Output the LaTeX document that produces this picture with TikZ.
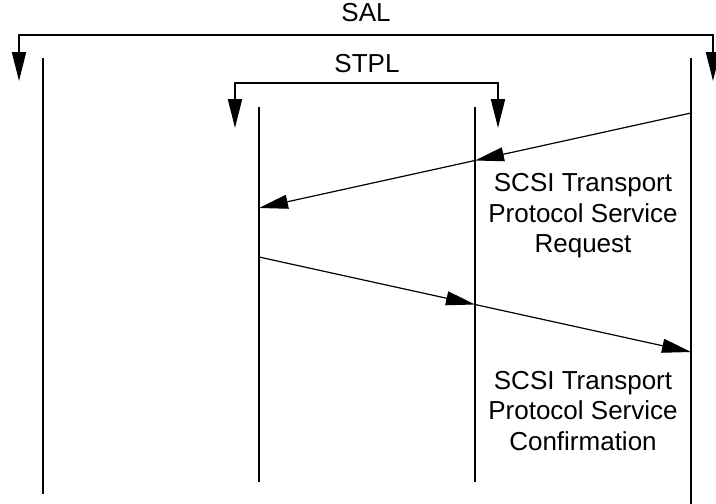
\documentclass[tikz,border=0pt]{standalone}
\usepackage{fontspec}
\setmainfont{Liberation Sans}
\usetikzlibrary{arrows.meta}

\begin{document}
\begin{tikzpicture}[x=1pt,y=-1pt,
    life/.style={line width=2pt},
    brk/.style={line width=2pt, {Triangle[length=29pt,width=14pt]}-{Triangle[length=29pt,width=14pt]}},
    msg/.style={line width=1.2pt, -{Triangle[length=29pt,width=14pt]}},
    lbl/.style={font=\fontsize{26}{30.5}\selectfont, align=center, inner sep=0pt}]
        \useasboundingbox (0,0) rectangle (716,504);

        % lifelines
        \coordinate (salTop) at (43,58);   \coordinate (salBot) at (43,494);
        \coordinate (stplLTop) at (259,107); \coordinate (stplLBot) at (259,482);
        \coordinate (stplRTop) at (475,107); \coordinate (stplRBot) at (475,482);
        \coordinate (tpTop) at (691,58);   \coordinate (tpBot) at (691,504);
        \draw[life] (salTop) -- (salBot);
        \draw[life] (stplLTop) -- (stplLBot);
        \draw[life] (stplRTop) -- (stplRBot);
        \draw[life] (tpTop) -- (tpBot);

        % brackets
        \node[lbl] (sal) at (366,13) {SAL};
        \coordinate (salMid) at (366,35);
        \draw[brk] (19,81) |- (salMid) -| (713,81);

        \node[lbl] (stpl) at (367,64) {STPL};
        \coordinate (stplMid) at (367,83);
        \draw[brk] (235,128) |- (stplMid) -| (498,128);

        % request
        \coordinate (reqA) at (691,113);
        \coordinate (reqB) at (475,160.5);
        \coordinate (reqC) at (259,208);
        \draw[msg] (reqA) -- (reqB);
        \draw[msg] (reqB) -- (reqC);
        \node[lbl] (req) at (583,216) {SCSI Transport\\Protocol Service\\Request};

        % confirmation
        \coordinate (cnfA) at (259,257);
        \coordinate (cnfB) at (475,304.5);
        \coordinate (cnfC) at (691,352);
        \draw[msg] (cnfA) -- (cnfB);
        \draw[msg] (cnfB) -- (cnfC);
        \node[lbl] (cnf) at (583,411) {SCSI Transport\\Protocol Service\\Confirmation};
      \end{tikzpicture}
\end{document}
